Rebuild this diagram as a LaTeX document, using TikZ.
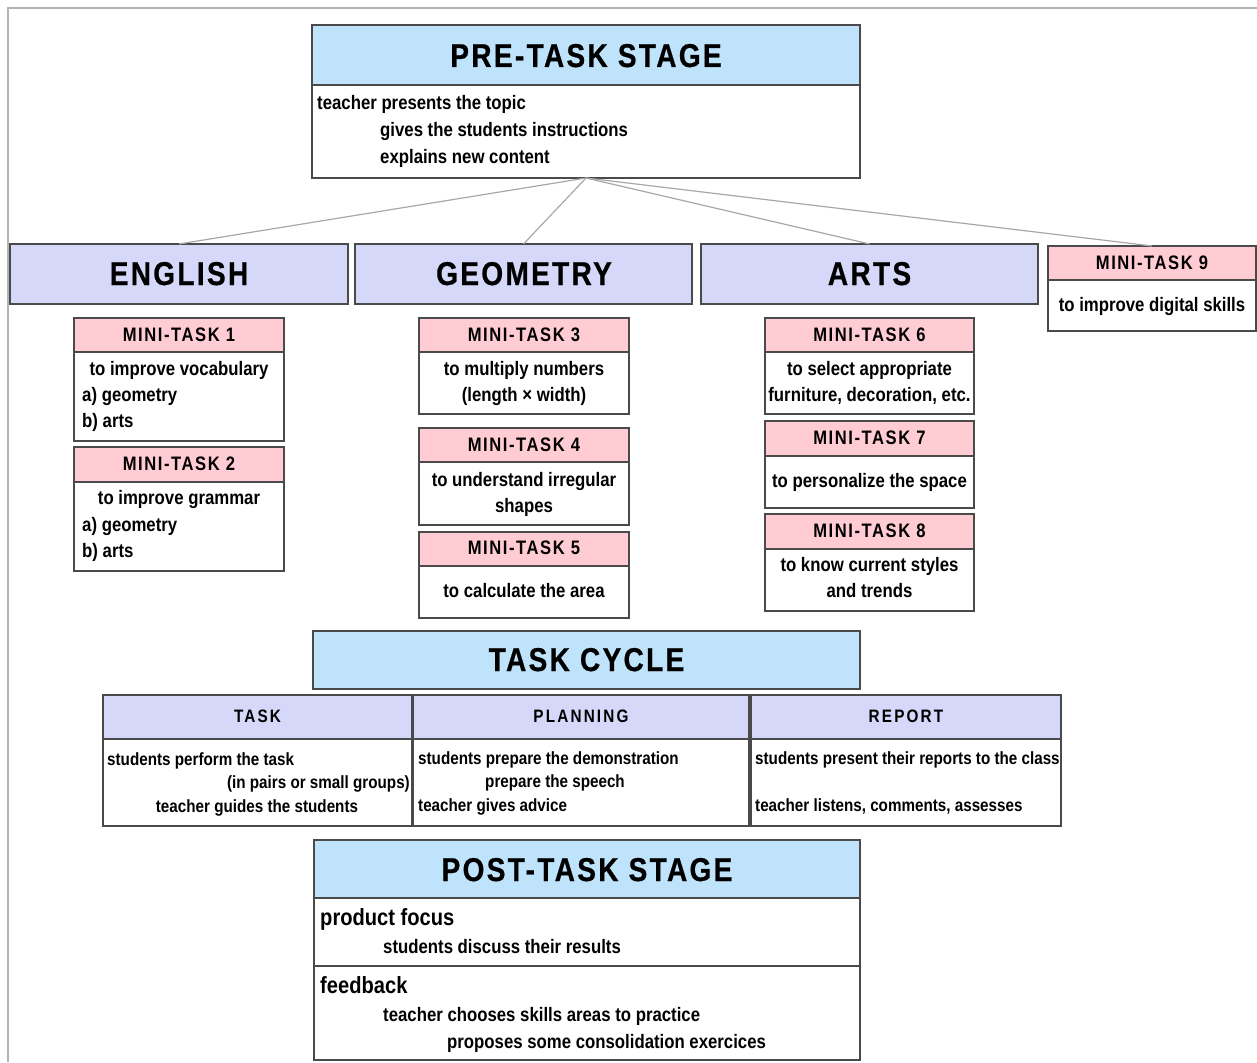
\documentclass[tikz,border=0pt]{standalone}
\usepackage{fontspec}
\setmainfont{Liberation Sans}[FakeStretch=0.86]
\newfontfamily\titlefont{Liberation Sans}[FakeStretch=0.85,LetterSpace=7,FakeBold=0.6]
\newfontfamily\minifont{Liberation Sans}[FakeStretch=0.85,LetterSpace=8]
\newfontfamily\headfont{Liberation Sans}[FakeStretch=0.85,LetterSpace=12]
\definecolor{blueH}{HTML}{BEE3FB}
\definecolor{lav}{HTML}{D6D8FA}
\definecolor{pink}{HTML}{FFCCD3}
\definecolor{bord}{HTML}{4A4A4A}
\definecolor{frame}{HTML}{B4B4B4}
\definecolor{conn}{HTML}{A8A8A8}
\newcommand\rb[6]{\pgfmathsetmacro\rbw{#4-#2}\pgfmathsetmacro\rbh{#5-#3}%
  \node[rect,fill=#6,minimum width=\rbw pt,minimum height=\rbh pt,anchor=north west] (#1) at (#2,#3) {};}
\begin{document}
\begin{tikzpicture}[x=1pt,y=-1pt,
  rect/.style={draw=bord,line width=1.4pt,inner sep=0pt,outer sep=0pt},
  big/.style={inner sep=0pt,anchor=base,font=\titlefont\bfseries\fontsize{33}{33}\selectfont},
  mini/.style={inner sep=0pt,anchor=base,font=\minifont\bfseries\fontsize{19.5}{19.5}\selectfont},
  sub/.style={inner sep=0pt,anchor=base,font=\headfont\bfseries\fontsize{18}{18}\selectfont},
  txt/.style={inner sep=0pt,font=\bfseries\fontsize{19.5}{19.5}\selectfont},
  stxt/.style={inner sep=0pt,font=\bfseries\fontsize{17.7}{17.7}\selectfont},
  ltxt/.style={inner sep=0pt,font=\bfseries\fontsize{23.4}{23.4}\selectfont},
  link/.style={draw=conn,line width=1.2pt}]
\useasboundingbox (0,0) rectangle (1257,1062);
\fill[white] (0,0) rectangle (1257,1062);
\coordinate (fa) at (8,1062);
\coordinate (fb) at (8,8);
\coordinate (fc) at (1257,8);
\draw[frame,line width=1.5pt] (fa) -- (fb) -- (fc);
% pre-task
\rb{preh}{312}{25}{860}{85}{blueH}
\rb{preb}{312}{85}{860}{178}{white}
\node[big] (pret) at (586,67) {PRE-TASK STAGE};
\node[txt,anchor=base west] (pre1) at (317,110) {teacher presents the topic};
\node[txt,anchor=base west] (pre2) at (380,136) {gives the students instructions};
\node[txt,anchor=base west] (pre3) at (380,163) {explains new content};
% subjects
\rb{eng}{10}{244}{348}{304}{lav}
\rb{geo}{355}{244}{692}{304}{lav}
\rb{arts}{701}{244}{1038}{304}{lav}
\node[big] (engt) at (179,285) {ENGLISH};
\node[big] (geot) at (524,285) {GEOMETRY};
\node[big] (artst) at (869.5,285) {ARTS};
% mini-task 9
\rb{mt9h}{1048}{246}{1256}{280}{pink}
\rb{mt9b}{1048}{280}{1256}{331}{white}
\node[mini] (mt9t) at (1152,269) {MINI-TASK 9};
\node[txt,anchor=base] (mt9a) at (1152,311) {to improve digital skills};
% connectors
\draw[link] (preb.south) -- (eng.north);
\draw[link] (preb.south) -- (geo.north);
\draw[link] (preb.south) -- (arts.north);
\draw[link] (preb.south) -- (mt9h.north);
% mini-task 1,2
\rb{mt1h}{74}{318}{284}{352}{pink}
\rb{mt1b}{74}{352}{284}{441}{white}
\node[mini] (mt1t) at (179,341) {MINI-TASK 1};
\node[txt,anchor=base] (mt1a) at (179,375) {to improve vocabulary};
\node[txt,anchor=base west] (mt1c) at (82,401) {a) geometry};
\node[txt,anchor=base west] (mt1d) at (82,427) {b) arts};
\rb{mt2h}{74}{447}{284}{482}{pink}
\rb{mt2b}{74}{482}{284}{571}{white}
\node[mini] (mt2t) at (179,470) {MINI-TASK 2};
\node[txt,anchor=base] (mt2a) at (179,504) {to improve grammar};
\node[txt,anchor=base west] (mt2c) at (82,531) {a) geometry};
\node[txt,anchor=base west] (mt2d) at (82,557) {b) arts};
% mini-task 3,4,5
\rb{mt3h}{419}{318}{629}{352}{pink}
\rb{mt3b}{419}{352}{629}{414}{white}
\node[mini] (mt3t) at (524,341) {MINI-TASK 3};
\node[txt,anchor=base] (mt3a) at (524,375) {to multiply numbers};
\node[txt,anchor=base] (mt3c) at (524,401) {(length × width)};
\rb{mt4h}{419}{428}{629}{462}{pink}
\rb{mt4b}{419}{462}{629}{525}{white}
\node[mini] (mt4t) at (524,451) {MINI-TASK 4};
\node[txt,anchor=base] (mt4a) at (524,486) {to understand irregular};
\node[txt,anchor=base] (mt4c) at (524,512) {shapes};
\rb{mt5h}{419}{532}{629}{566}{pink}
\rb{mt5b}{419}{566}{629}{618}{white}
\node[mini] (mt5t) at (524,554) {MINI-TASK 5};
\node[txt,anchor=base] (mt5a) at (524,597) {to calculate the area};
% mini-task 6,7,8
\rb{mt6h}{765}{318}{974}{352}{pink}
\rb{mt6b}{765}{352}{974}{414}{white}
\node[mini] (mt6t) at (869.5,341) {MINI-TASK 6};
\node[txt,anchor=base] (mt6a) at (869.5,375) {to select appropriate};
\node[txt,anchor=base] (mt6c) at (869.5,401) {furniture, decoration, etc.};
\rb{mt7h}{765}{421}{974}{456}{pink}
\rb{mt7b}{765}{456}{974}{508}{white}
\node[mini] (mt7t) at (869.5,444) {MINI-TASK 7};
\node[txt,anchor=base] (mt7a) at (869.5,487) {to personalize the space};
\rb{mt8h}{765}{514}{974}{549}{pink}
\rb{mt8b}{765}{549}{974}{611}{white}
\node[mini] (mt8t) at (869.5,537) {MINI-TASK 8};
\node[txt,anchor=base] (mt8a) at (869.5,571) {to know current styles};
\node[txt,anchor=base] (mt8c) at (869.5,597) {and trends};
% task cycle
\rb{tc}{313}{631}{860}{689}{blueH}
\node[big] (tct) at (586.5,671) {TASK CYCLE};
\rb{taskh}{103}{695}{412}{739}{lav}
\rb{taskb}{103}{739}{412}{826}{white}
\rb{planh}{413}{695}{749}{739}{lav}
\rb{planb}{413}{739}{749}{826}{white}
\rb{reph}{751}{695}{1061}{739}{lav}
\rb{repb}{751}{739}{1061}{826}{white}
\node[sub] (taskt) at (257.5,722.5) {TASK};
\node[sub] (plant) at (581,722.5) {PLANNING};
\node[sub] (rept) at (906,722.5) {REPORT};
\node[stxt,anchor=base west] (task1) at (107,765.5) {students perform the task};
\node[stxt,anchor=base east] (task2) at (410,788.5) {(in pairs or small groups)};
\node[stxt,anchor=base] (task3) at (257,812.5) {teacher guides the students};
\node[stxt,anchor=base west] (plan1) at (418,764.5) {students prepare the demonstration};
\node[stxt,anchor=base] (plan2) at (555,787.5) {prepare the speech};
\node[stxt,anchor=base west] (plan3) at (418,811.5) {teacher gives advice};
\node[stxt,anchor=base west] (rep1) at (755,764.5) {students present their reports to the class};
\node[stxt,anchor=base west] (rep2) at (755,811.5) {teacher listens, comments, assesses};
% post-task
\rb{posth}{314}{840}{860}{898}{blueH}
\rb{postb1}{314}{898}{860}{966}{white}
\rb{postb2}{314}{966}{860}{1060}{white}
\node[big] (postt) at (587,881) {POST-TASK STAGE};
\node[ltxt,anchor=base west] (post1) at (320,925) {product focus};
\node[txt,anchor=base west] (post2) at (383,953) {students discuss their results};
\node[ltxt,anchor=base west] (post3) at (320,993) {feedback};
\node[txt,anchor=base west] (post4) at (383,1021) {teacher chooses skills areas to practice};
\node[txt,anchor=base west] (post5) at (447,1048) {proposes some consolidation exercices};
\end{tikzpicture}
\end{document}
